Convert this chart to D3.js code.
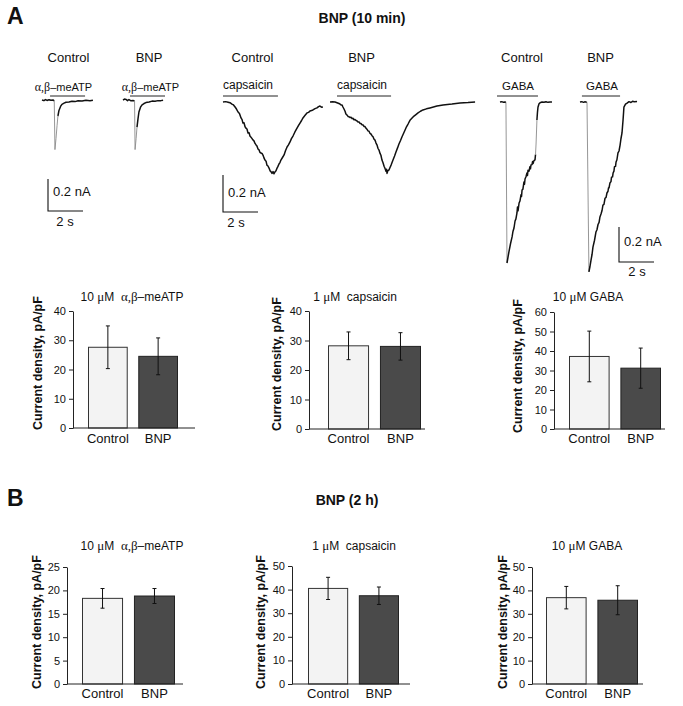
<!DOCTYPE html>
<html><head><meta charset="utf-8">
<script src="https://cdn.jsdelivr.net/npm/d3@7"></script>
<style>
body{margin:0;background:#fff}
text{font-family:"Liberation Sans",Arial,sans-serif;fill:#111;white-space:pre}
.serif{font-family:"Liberation Serif","Times New Roman",serif}
</style>
</head><body><svg id="c" width="683" height="706"></svg>
<script>
// ---------------- DATA ----------------
const categories = ["Control", "BNP"];

// Panel A (BNP 10 min) bar data: mean and error
const atpA_mean = [27.6, 24.5], atpA_err = [7.3, 6.3];
const capA_mean = [28.2, 28.0], capA_err = [4.7, 4.65];
const gabaA_mean = [37.2, 31.2], gabaA_err = [13.0, 10.3];
// Panel B (BNP 2 h)
const atpB_mean = [18.3, 18.8], atpB_err = [2.1, 1.6];
const capB_mean = [40.5, 37.4], capB_err = [4.7, 3.7];
const gabaB_mean = [36.9, 35.8], gabaB_err = [4.8, 6.2];

const ticks_40 = [0, 10, 20, 30, 40];
const ticks_60 = [0, 10, 20, 30, 40, 50, 60];
const ticks_25 = [0, 5, 10, 15, 20, 25];
const ticks_50 = [0, 10, 20, 30, 40, 50];

// chart titles: [text, serif?]
const titleATP = [["10 ", 0], ["\u03bc", 1], ["M  ", 0], ["\u03b1,\u03b2", 1], ["\u2013meATP", 0]];
const titleCap = [["1 ", 0], ["\u03bc", 1], ["M  capsaicin", 0]];
const titleGABA = [["10 ", 0], ["\u03bc", 1], ["M GABA", 0]];
const drugATP = [["\u03b1,\u03b2", 1], ["\u2013meATP", 0]];
const drugCap = [["capsaicin", 0]];
const drugGABA = [["GABA", 0]];

// Current traces: [time s, current nA]
const atpControlTrace = [[0,0],[0.11,-0.004],[0.2,0.003],[0.29,-0.003],[0.4,0.002],[0.51,-0.002],[0.63,0],[0.7,-0.005],[0.74,-0.31],[0.8,-0.24],[0.86,-0.16],[0.91,-0.10],[0.97,-0.065],[1.06,-0.04],[1.14,-0.027],[1.26,-0.02],[1.37,-0.014],[1.54,-0.012],[1.71,-0.008],[1.89,-0.01],[2.06,-0.005],[2.29,-0.006],[2.51,-0.002],[2.74,-0.004],[2.91,-0.001]];
const atpBnpTrace = [[0,0],[0.09,0.006],[0.17,0.004],[0.26,-0.004],[0.34,0.003],[0.46,-0.005],[0.57,-0.003],[0.66,-0.006],[0.69,-0.31],[0.75,-0.24],[0.8,-0.17],[0.86,-0.115],[0.91,-0.075],[1.0,-0.045],[1.09,-0.03],[1.2,-0.022],[1.31,-0.016],[1.49,-0.012],[1.66,-0.007],[1.83,-0.008],[2.0,-0.004],[2.17,-0.004],[2.29,-0.001]];
const capControlTrace = [[0,0],[0.15,0.002],[0.29,-0.001],[0.4,-0.004],[0.51,-0.011],[0.6,-0.016],[0.69,-0.027],[0.77,-0.038],[0.86,-0.054],[0.94,-0.062],[1.03,-0.086],[1.09,-0.095],[1.14,-0.114],[1.2,-0.112],[1.26,-0.134],[1.31,-0.141],[1.37,-0.146],[1.43,-0.168],[1.49,-0.166],[1.54,-0.184],[1.6,-0.19],[1.66,-0.198],[1.71,-0.205],[1.77,-0.21],[1.83,-0.224],[1.89,-0.232],[1.94,-0.238],[2.0,-0.254],[2.06,-0.259],[2.11,-0.272],[2.17,-0.276],[2.23,-0.278],[2.29,-0.288],[2.34,-0.302],[2.4,-0.314],[2.46,-0.32],[2.51,-0.341],[2.57,-0.346],[2.63,-0.357],[2.69,-0.372],[2.74,-0.376],[2.8,-0.386],[2.86,-0.376],[2.91,-0.388],[2.97,-0.378],[3.03,-0.372],[3.09,-0.357],[3.14,-0.348],[3.2,-0.335],[3.26,-0.326],[3.31,-0.314],[3.4,-0.3],[3.49,-0.286],[3.57,-0.264],[3.66,-0.243],[3.74,-0.232],[3.83,-0.216],[3.91,-0.198],[4.0,-0.184],[4.11,-0.162],[4.23,-0.141],[4.31,-0.128],[4.4,-0.114],[4.49,-0.1],[4.57,-0.086],[4.69,-0.072],[4.8,-0.059],[4.89,-0.056],[4.97,-0.049],[5.06,-0.046],[5.14,-0.043],[5.26,-0.036],[5.37,-0.032],[5.46,-0.025],[5.54,-0.022],[5.63,-0.028],[5.71,-0.027]];
const capBnpTrace = [[0,0],[0.15,0.001],[0.29,0],[0.4,-0.004],[0.51,-0.008],[0.57,-0.011],[0.63,-0.016],[0.69,-0.016],[0.74,-0.027],[0.8,-0.038],[0.86,-0.05],[0.91,-0.065],[0.97,-0.07],[1.03,-0.078],[1.09,-0.08],[1.14,-0.084],[1.2,-0.082],[1.26,-0.09],[1.31,-0.088],[1.37,-0.096],[1.43,-0.095],[1.49,-0.1],[1.54,-0.102],[1.6,-0.108],[1.66,-0.108],[1.71,-0.116],[1.77,-0.116],[1.83,-0.123],[1.89,-0.124],[1.94,-0.132],[2.0,-0.133],[2.06,-0.142],[2.11,-0.147],[2.17,-0.156],[2.23,-0.158],[2.29,-0.17],[2.34,-0.173],[2.4,-0.182],[2.46,-0.188],[2.51,-0.2],[2.57,-0.206],[2.63,-0.222],[2.69,-0.233],[2.74,-0.25],[2.8,-0.26],[2.86,-0.278],[2.91,-0.288],[2.97,-0.314],[3.03,-0.328],[3.09,-0.347],[3.14,-0.358],[3.2,-0.374],[3.23,-0.364],[3.26,-0.386],[3.31,-0.37],[3.37,-0.368],[3.43,-0.354],[3.49,-0.341],[3.54,-0.328],[3.6,-0.314],[3.69,-0.292],[3.77,-0.27],[3.86,-0.248],[3.94,-0.227],[4.03,-0.208],[4.11,-0.189],[4.2,-0.17],[4.29,-0.151],[4.37,-0.134],[4.46,-0.119],[4.57,-0.099],[4.69,-0.087],[4.8,-0.076],[4.91,-0.068],[5.03,-0.059],[5.17,-0.05],[5.31,-0.043],[5.51,-0.037],[5.71,-0.032],[5.91,-0.027],[6.11,-0.022],[6.29,-0.019],[6.46,-0.016],[6.71,-0.013],[6.97,-0.011],[7.2,-0.008],[7.43,-0.005],[7.66,-0.004],[7.89,-0.003],[8.1,-0.001],[8.29,0]];
const gabaControlTrace = [[0,0],[0.1,0.002],[0.2,-0.002],[0.29,0],[0.34,-0.003],[0.4,-0.92],[0.46,-0.885],[0.51,-0.857],[0.6,-0.81],[0.69,-0.771],[0.74,-0.74],[0.8,-0.72],[0.86,-0.68],[0.91,-0.668],[0.97,-0.634],[1.0,-0.6],[1.03,-0.622],[1.09,-0.577],[1.14,-0.566],[1.2,-0.53],[1.23,-0.54],[1.26,-0.503],[1.31,-0.498],[1.37,-0.457],[1.4,-0.47],[1.43,-0.44],[1.49,-0.426],[1.54,-0.406],[1.57,-0.42],[1.6,-0.39],[1.66,-0.395],[1.71,-0.37],[1.74,-0.382],[1.77,-0.36],[1.83,-0.358],[1.86,-0.34],[1.89,-0.352],[1.94,-0.335],[2.0,-0.331],[2.03,-0.3],[2.06,-0.24],[2.09,-0.16],[2.11,-0.103],[2.14,-0.06],[2.17,-0.03],[2.23,-0.01],[2.29,-0.004],[2.4,0],[2.51,-0.002],[2.63,0.001],[2.74,-0.002],[2.86,0],[2.97,0]];
const gabaBnpTrace = [[0,0],[0.1,0.002],[0.2,-0.002],[0.29,0.001],[0.4,-0.002],[0.51,-0.971],[0.57,-0.94],[0.63,-0.903],[0.69,-0.87],[0.74,-0.829],[0.83,-0.79],[0.91,-0.743],[0.97,-0.73],[1.03,-0.7],[1.09,-0.688],[1.14,-0.657],[1.2,-0.64],[1.26,-0.62],[1.31,-0.589],[1.37,-0.585],[1.43,-0.55],[1.49,-0.545],[1.54,-0.52],[1.6,-0.51],[1.63,-0.49],[1.66,-0.49],[1.71,-0.463],[1.77,-0.455],[1.8,-0.43],[1.86,-0.428],[1.89,-0.406],[1.94,-0.395],[1.97,-0.37],[2.03,-0.368],[2.06,-0.343],[2.11,-0.33],[2.17,-0.291],[2.23,-0.28],[2.29,-0.246],[2.34,-0.21],[2.4,-0.177],[2.43,-0.14],[2.46,-0.103],[2.49,-0.06],[2.51,-0.029],[2.6,-0.012],[2.69,-0.006],[2.8,0.002],[2.91,-0.003],[3.0,0.004],[3.1,0.001],[3.26,0.003]];

// drug application intervals [start s, end s] for control and BNP traces
const atpApp = [[0.46, 2.46], [0.4, 2.4]];
const capApp = [[0, 3.14], [0.4, 3.49]];
const gabaApp = [[-0.17, 2.17], [0.11, 2.29]];
const scaleBarNA = 0.2, scaleBarS = 2;

// ---------------- DRAWING ----------------
const svg = d3.select("#c");

function richText(g, x, y, parts, size, anchor, weight) {
  const t = g.append("text").attr("x", x).attr("y", y)
    .attr("font-size", size).attr("text-anchor", anchor || "middle")
    .attr("font-weight", weight || "normal");
  parts.forEach(p => {
    const s = t.append("tspan").text(p[0]);
    if (p[1]) s.attr("class", "serif").attr("font-size", size + 1);
  });
  return t;
}

// panel letters & headings
svg.append("text").attr("x", 7).attr("y", 24).attr("font-size", 23).attr("font-weight", "bold").text("A");
svg.append("text").attr("x", 7).attr("y", 506).attr("font-size", 23).attr("font-weight", "bold").text("B");
svg.append("text").attr("x", 362).attr("y", 23).attr("font-size", 14).attr("font-weight", "bold").attr("text-anchor", "middle").text("BNP (10 min)");
svg.append("text").attr("x", 347).attr("y", 505).attr("font-size", 14).attr("font-weight", "bold").attr("text-anchor", "middle").text("BNP (2 h)");

// ----- traces -----
const traceGroups = [
  { traces: [atpControlTrace, atpBnpTrace], app: atpApp, drug: drugATP, drugSize: 11, drugAnchor: "middle",
    origins: [[42, 100], [123, 100]], pxS: 17.5, pxNA: 160, appY: 96, drugPos: [[63.5, 91], [150.5, 91]],
    headers: [[68.5, 62], [149, 62]], sb: [48, 211], sbLabel: [53, 196], sbS: [65, 226] },
  { traces: [capControlTrace, capBnpTrace], app: capApp, drug: drugCap, drugSize: 12, drugAnchor: "start",
    origins: [[223, 102], [330, 102]], pxS: 17.5, pxNA: 185, appY: 96, drugPos: [[223, 89], [337, 89]],
    headers: [[252.5, 62], [361.5, 62]], sb: [223, 212], sbLabel: [228, 197], sbS: [236, 227] },
  { traces: [gabaControlTrace, gabaBnpTrace], app: gabaApp, drug: drugGABA, drugSize: 11.5, drugAnchor: "middle",
    origins: [[500, 102], [580, 102]], pxS: 17.5, pxNA: 175, appY: 96, drugPos: [[518, 90], [602, 90]],
    headers: [[522, 62], [600.5, 62]], sb: [619, 262], sbLabel: [624, 246], sbS: [637, 276] }
];

traceGroups.forEach(G => {
  const g = svg.append("g");
  G.traces.forEach((tr, i) => {
    const [ox, oy] = G.origins[i];
    const x = d3.scaleLinear().domain([0, 1]).range([ox, ox + G.pxS]);
    const y = d3.scaleLinear().domain([0, -1]).range([oy, oy + G.pxNA]);
    // header
    g.append("text").attr("x", G.headers[i][0]).attr("y", G.headers[i][1]).attr("font-size", 13)
      .attr("text-anchor", "middle").text(categories[i]);
    // drug label + application bar
    richText(g, G.drugPos[i][0], G.drugPos[i][1], G.drug, G.drugSize, G.drugAnchor);
    g.append("line").attr("x1", x(G.app[i][0])).attr("x2", x(G.app[i][1]))
      .attr("y1", G.appY).attr("y2", G.appY).attr("stroke", "#222").attr("stroke-width", 1);
    // trace: slow runs as black paths, fast jumps as thin grey lines
    const line = d3.line().x(d => x(d[0])).y(d => y(d[1]));
    let run = [tr[0]];
    const flush = () => { if (run.length > 1) g.append("path").attr("d", line(run)).attr("fill", "none")
      .attr("stroke", "#111").attr("stroke-width", 1.5).attr("stroke-linejoin", "round"); };
    for (let k = 1; k < tr.length; k++) {
      const a = tr[k - 1], b = tr[k];
      const dx = Math.abs(x(b[0]) - x(a[0])), dy = Math.abs(y(b[1]) - y(a[1]));
      if (dy > 9 && dy > 5 * dx) {
        flush();
        g.append("line").attr("x1", x(a[0])).attr("y1", y(a[1])).attr("x2", x(b[0])).attr("y2", y(b[1]))
          .attr("stroke", "#8a8a8a").attr("stroke-width", 0.9);
        run = [b];
      } else run.push(b);
    }
    flush();
  });
  // scale bar using same scales
  const [sx, sy] = G.sb;
  const xs = d3.scaleLinear().domain([0, 1]).range([sx, sx + G.pxS]);
  const ys = d3.scaleLinear().domain([0, 1]).range([sy, sy - G.pxNA]);
  g.append("path").attr("d", `M${sx},${ys(scaleBarNA)}V${sy}H${xs(scaleBarS)}`)
    .attr("fill", "none").attr("stroke", "#111").attr("stroke-width", 1.1);
  g.append("text").attr("x", G.sbLabel[0]).attr("y", G.sbLabel[1]).attr("font-size", 13).text(scaleBarNA + " nA");
  g.append("text").attr("x", G.sbS[0]).attr("y", G.sbS[1]).attr("font-size", 13).attr("text-anchor", "middle").text(scaleBarS + " s");
});

// ----- bar charts -----
const charts = [
  { mean: atpA_mean, err: atpA_err, ticks: ticks_40, title: titleATP, axisX: 73, axisEnd: 195, barL: 88, barR: 178, yTop: 311, yBot: 428, labX: 38, labY: 363, titleX: 132, titleY: 301, catY: 443 },
  { mean: capA_mean, err: capA_err, ticks: ticks_40, title: titleCap, axisX: 309, axisEnd: 425, barL: 328, barR: 421, yTop: 311, yBot: 429, labX: 277, labY: 364, titleX: 355, titleY: 301, catY: 443 },
  { mean: gabaA_mean, err: gabaA_err, ticks: ticks_60, title: titleGABA, axisX: 554, axisEnd: 665, barL: 569, barR: 661, yTop: 312, yBot: 429, labX: 518, labY: 366, titleX: 588, titleY: 301, catY: 443 },
  { mean: atpB_mean, err: atpB_err, ticks: ticks_25, title: titleATP, axisX: 67, axisEnd: 183, barL: 82, barR: 175, yTop: 567, yBot: 684, labX: 37, labY: 622, titleX: 132, titleY: 550, catY: 698 },
  { mean: capB_mean, err: capB_err, ticks: ticks_50, title: titleCap, axisX: 292, axisEnd: 410, barL: 308, barR: 399, yTop: 566, yBot: 684, labX: 261, labY: 622, titleX: 354, titleY: 550, catY: 698 },
  { mean: gabaB_mean, err: gabaB_err, ticks: ticks_50, title: titleGABA, axisX: 532, axisEnd: 643, barL: 546, barR: 638, yTop: 567, yBot: 684, labX: 503, labY: 622, titleX: 587, titleY: 550, catY: 698 }
];
const fills = ["#f3f3f3", "#4a4a4a"];
const strokes = ["#333", "#222"];

charts.forEach(C => {
  const g = svg.append("g");
  const y = d3.scaleLinear().domain([0, d3.max(C.ticks)]).range([C.yBot, C.yTop]);
  const x = d3.scaleBand().domain(categories).range([C.barL, C.barR]).paddingInner(0.21).paddingOuter(0);
  // bars
  g.selectAll("rect").data(categories).join("rect")
    .attr("x", d => x(d) + 0.5).attr("width", x.bandwidth() - 1)
    .attr("y", (d, i) => y(C.mean[i])).attr("height", (d, i) => C.yBot - y(C.mean[i]))
    .attr("fill", (d, i) => fills[i]).attr("stroke", (d, i) => strokes[i]).attr("stroke-width", 1);
  // error bars
  categories.forEach((d, i) => {
    const cx = x(d) + x.bandwidth() / 2;
    const hi = y(C.mean[i] + C.err[i]), lo = y(C.mean[i] - C.err[i]);
    g.append("line").attr("x1", cx).attr("x2", cx).attr("y1", hi).attr("y2", lo).attr("stroke", "#111").attr("stroke-width", 1);
    [hi, lo].forEach(v => g.append("line").attr("x1", cx - 2).attr("x2", cx + 2).attr("y1", v).attr("y2", v)
      .attr("stroke", "#111").attr("stroke-width", 1));
    g.append("text").attr("x", cx).attr("y", C.catY).attr("font-size", 13).attr("text-anchor", "middle").text(d);
  });
  // y axis
  const ax = g.append("g").attr("transform", `translate(${C.axisX},0)`)
    .call(d3.axisLeft(y).tickValues(C.ticks).tickSize(4).tickPadding(3).tickSizeOuter(0));
  ax.select(".domain").attr("stroke", "#222");
  ax.selectAll(".tick line").attr("stroke", "#222");
  ax.selectAll(".tick text").attr("font-size", 11).attr("fill", "#111")
    .attr("font-family", '"Liberation Sans",Arial,sans-serif');
  // x axis baseline
  g.append("line").attr("x1", C.axisX).attr("x2", C.axisEnd).attr("y1", C.yBot).attr("y2", C.yBot)
    .attr("stroke", "#222").attr("stroke-width", 1);
  // y label
  g.append("text").attr("transform", `translate(${C.labX},${C.labY}) rotate(-90)`)
    .attr("text-anchor", "middle").attr("dy", "0.35em").attr("font-size", 12.5).attr("font-weight", "bold")
    .text("Current density, pA/pF");
  // title
  richText(g, C.titleX, C.titleY, C.title, 12, "middle");
});
</script>
</body></html>
